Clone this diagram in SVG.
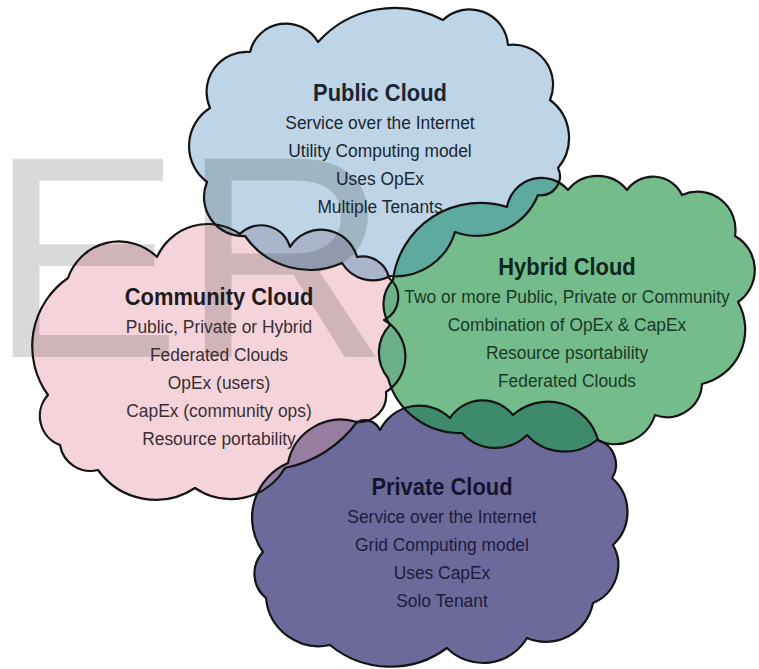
<svg xmlns="http://www.w3.org/2000/svg" xmlns:xlink="http://www.w3.org/1999/xlink" width="759" height="669" viewBox="0 0 759 669">
<style>
.outline{fill:none;stroke:#141414;stroke-width:2.2;stroke-linejoin:round}
.t{font-family:"Liberation Sans",Arial,Helvetica,sans-serif;text-anchor:middle;font-size:18.5px}
.h{font-weight:bold;font-size:23.3px}
.wm{font-family:"Liberation Sans",Arial,sans-serif;font-size:288px;fill:#000;fill-opacity:0.15}
</style>
<defs>
<path id="p-public" d="M207,182 A45,45 0 0 1 210,108 A40,40 0 0 1 250,52 A37,37 0 0 1 318,42 A103,103 0 0 1 443,20 A38.5,38.5 0 0 1 508,45 A40,40 0 0 1 550,100 A47,47 0 0 1 558,168 A19,19 0 0 1 538,195 A66,66 0 0 1 455,232 A62,62 0 0 1 390,276 A36,36 0 0 1 342,263 A79,79 0 0 1 245,236 A39,39 0 0 1 207,182 Z"/>
<path id="p-community" d="M48,395 A83,83 0 0 1 68,278 A54,54 0 0 1 157,257 A56,56 0 0 1 240,234 A30,30 0 0 1 290,247 A37,37 0 0 1 357,257 A27,27 0 0 1 389,278 A25,25 0 0 1 384,320 A42,42 0 0 1 386,392 A27,27 0 0 1 357,422 A118,118 0 0 1 285,468 A63,63 0 0 1 195,488 A71,71 0 0 1 98,470 A31,31 0 0 1 60,445 A31,31 0 0 1 48,395 Z"/>
<path id="p-hybrid" d="M393,280 A88,88 0 0 1 507,207 A35,35 0 0 1 568,190 A38,38 0 0 1 627,190 A32,32 0 0 1 682,195 A38,38 0 0 1 735,236 A39,39 0 0 1 738,302 A56,56 0 0 1 702,384 A35,35 0 0 1 655,415 A42,42 0 0 1 597,440 A51,51 0 0 1 527,435 A45,45 0 0 1 462,433 A74,74 0 0 1 388,378 A40,40 0 0 1 390,325 A36,36 0 0 1 393,280 Z"/>
<path id="p-private" d="M288,463 A54,54 0 0 1 357,422 A17,17 0 0 1 380,430 A44,44 0 0 1 450,418 A39,39 0 0 1 513,415 A52,52 0 0 1 598,440 A25.5,25.5 0 0 1 612,478 A45,45 0 0 1 613,545 A41,41 0 0 1 593,603 A48,48 0 0 1 527,638 A51,51 0 0 1 447,648 A95,95 0 0 1 330,645 A53,53 0 0 1 266,598 A31.5,31.5 0 0 1 263,552 A59.5,59.5 0 0 1 288,463 Z"/>
<clipPath id="c-public"><use xlink:href="#p-public"/></clipPath>
<clipPath id="c-community"><use xlink:href="#p-community"/></clipPath>
<clipPath id="c-hybrid"><use xlink:href="#p-hybrid"/></clipPath>
</defs>
<rect width="759" height="669" fill="#ffffff"/>
<g id="fills">
<use xlink:href="#p-public" fill="#bdd5e7"/>
<use xlink:href="#p-community" fill="#f4d4da"/>
<use xlink:href="#p-hybrid" fill="#74bc8c"/>
<use xlink:href="#p-private" fill="#6b6a9b"/>
</g>
<g id="overlaps">
<use xlink:href="#p-community" clip-path="url(#c-public)" fill="#aab5cb"/>
<use xlink:href="#p-hybrid" clip-path="url(#c-public)" fill="#5eaa9f"/>
<use xlink:href="#p-hybrid" clip-path="url(#c-community)" fill="#6cb089"/>
<use xlink:href="#p-private" clip-path="url(#c-hybrid)" fill="#3d8b6c"/>
<use xlink:href="#p-private" clip-path="url(#c-community)" fill="#977ea0"/>
</g>
<text class="wm" x="-11" y="357">ER</text>
<g id="public-cloud">
<use xlink:href="#p-public" class="outline"/>
<g class="t" fill="#1c2632" transform="matrix(0.94,0,0,1,22.8,0)">
<text class="h" x="380" y="101">Public Cloud</text>
<text x="380" y="129">Service over the Internet</text>
<text x="380" y="157">Utility Computing model</text>
<text x="380" y="185">Uses OpEx</text>
<text x="380" y="213">Multiple Tenants</text>
</g>
</g>
<g id="community-cloud">
<use xlink:href="#p-community" class="outline"/>
<g class="t" fill="#3a2e32" transform="matrix(0.94,0,0,1,13.14,0)">
<text class="h" x="219" y="305" fill="#231a1d">Community Cloud</text>
<text x="219" y="333">Public, Private or Hybrid</text>
<text x="219" y="361">Federated Clouds</text>
<text x="219" y="389">OpEx (users)</text>
<text x="219" y="417">CapEx (community ops)</text>
<text x="219" y="445">Resource portability</text>
</g>
</g>
<g id="hybrid-cloud">
<use xlink:href="#p-hybrid" class="outline"/>
<g class="t" fill="#1b3a24" transform="matrix(0.94,0,0,1,34.02,0)">
<text class="h" x="567" y="275" fill="#10261a">Hybrid Cloud</text>
<text x="567" y="303">Two or more Public, Private or Community</text>
<text x="567" y="331">Combination of OpEx &amp; CapEx</text>
<text x="567" y="359">Resource psortability</text>
<text x="567" y="387">Federated Clouds</text>
</g>
</g>
<g id="private-cloud">
<use xlink:href="#p-private" class="outline"/>
<g class="t" fill="#1c1c3e" transform="matrix(0.94,0,0,1,26.52,0)">
<text class="h" x="442" y="495" fill="#14142e">Private Cloud</text>
<text x="442" y="523">Service over the Internet</text>
<text x="442" y="551">Grid Computing model</text>
<text x="442" y="579">Uses CapEx</text>
<text x="442" y="607">Solo Tenant</text>
</g>
</g>
<g id="connectors"></g>
</svg>
